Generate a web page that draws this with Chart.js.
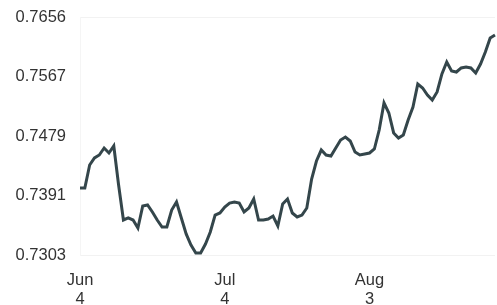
<!DOCTYPE html>
<html>
<head>
<meta charset="utf-8">
<script src="https://cdn.jsdelivr.net/npm/chart.js@4"></script>
<style>
  html, body { margin: 0; padding: 0; background: #fff; }
  #wrap { width: 497px; height: 305px; position: relative; }
</style>
</head>
<body>
<div id="wrap"><canvas id="myChart"></canvas></div>
<script>
const dates = [
  "Jun 4", "Jun 5", "Jun 6", "Jun 7", "Jun 8", "Jun 9", "Jun 10", "Jun 11", "Jun 12", "Jun 13",
  "Jun 14", "Jun 15", "Jun 16", "Jun 17", "Jun 18", "Jun 19", "Jun 20", "Jun 21", "Jun 22", "Jun 23",
  "Jun 24", "Jun 25", "Jun 26", "Jun 27", "Jun 28", "Jun 29", "Jun 30", "Jul 1", "Jul 2", "Jul 3",
  "Jul 4", "Jul 5", "Jul 6", "Jul 7", "Jul 8", "Jul 9", "Jul 10", "Jul 11", "Jul 12", "Jul 13",
  "Jul 14", "Jul 15", "Jul 16", "Jul 17", "Jul 18", "Jul 19", "Jul 20", "Jul 21", "Jul 22", "Jul 23",
  "Jul 24", "Jul 25", "Jul 26", "Jul 27", "Jul 28", "Jul 29", "Jul 30", "Jul 31", "Aug 1", "Aug 2",
  "Aug 3", "Aug 4", "Aug 5", "Aug 6", "Aug 7", "Aug 8", "Aug 9", "Aug 10", "Aug 11", "Aug 12",
  "Aug 13", "Aug 14", "Aug 15", "Aug 16", "Aug 17", "Aug 18", "Aug 19", "Aug 20", "Aug 21", "Aug 22",
  "Aug 23", "Aug 24", "Aug 25", "Aug 26", "Aug 27", "Aug 28", "Aug 29"
];

const rates = [
  0.74024, 0.74024, 0.74365, 0.74469, 0.74513, 0.74617, 0.74543, 0.74647, 0.74068, 0.73549,
  0.73579, 0.73549, 0.73431, 0.73757, 0.73772, 0.73668, 0.73549, 0.73445, 0.73445, 0.73697,
  0.73816, 0.73579, 0.73342, 0.73178, 0.73060, 0.73060, 0.73193, 0.73371, 0.73623, 0.73653,
  0.73742, 0.73801, 0.73816, 0.73801, 0.73668, 0.73727, 0.73861, 0.73549, 0.73549, 0.73564,
  0.73608, 0.73460, 0.73786, 0.73861, 0.73653, 0.73594, 0.73623, 0.73727, 0.74157, 0.74424,
  0.74587, 0.74513, 0.74498, 0.74617, 0.74736, 0.74780, 0.74721, 0.74558, 0.74513, 0.74528,
  0.74543, 0.74602, 0.74884, 0.75285, 0.75136, 0.74840, 0.74765, 0.74810, 0.75032, 0.75225,
  0.75566, 0.75507, 0.75403, 0.75329, 0.75448, 0.75715, 0.75893, 0.75759, 0.75744, 0.75804,
  0.75818, 0.75804, 0.75729, 0.75863, 0.76041, 0.76249, 0.76293
];

const xTickLabels = ["Jun 4", "Jul 4", "Aug 3"];
const yTickLabels = ["0.7303", "0.7391", "0.7479", "0.7567", "0.7656"];

const yMin = 0.7303;
const yMax = 0.7656;
const textColor = "#333";
const fontFamily = "'Liberation Sans', Arial, Helvetica, sans-serif";

const data = {
  labels: dates,
  datasets: [
    {
      data: rates,
      borderColor: "#34464b",
      borderWidth: 3,
      pointRadius: 0,
      tension: 0,
      fill: false,
    },
  ],
};

const config = {
  type: "line",
  data,
  options: {
    responsive: true,
    maintainAspectRatio: false,
    animation: false,
    layout: {
      padding: { top: 17, right: 2, left: 0, bottom: 0 },
    },
    scales: {
      x: {
        offset: false,
        grid: { display: false },
        border: { display: false },
        ticks: {
          autoSkip: false,
          maxRotation: 0,
          padding: 8,
          color: textColor,
          font: { family: fontFamily, size: 16.5, lineHeight: 1.15 },
          callback: function (value, index) {
            const label = dates[index];
            if (xTickLabels.includes(label)) {
              return label.split(" ");
            }
            return null;
          },
        },
        afterFit: (scale) => {
          scale.height = 50;
        },
      },
      y: {
        min: yMin,
        max: yMax,
        afterBuildTicks: (scale) => {
          scale.ticks = yTickLabels.map((t, i) => ({
            value: yMin + ((yMax - yMin) * i) / (yTickLabels.length - 1),
          }));
        },
        afterFit: (scale) => {
          scale.width = 80;
          scale.paddingTop = 0;
          scale.paddingBottom = 0;
        },
        grid: {
          drawTicks: false,
          color: (ctx) =>
            ctx.index === 0 || ctx.index === yTickLabels.length - 1
              ? "rgba(0,0,0,0.05)"
              : "rgba(0,0,0,0)",
        },
        border: { display: true, color: "rgba(0,0,0,0.04)" },
        ticks: {
          padding: 14,
          color: textColor,
          font: { family: fontFamily, size: 16.5 },
          callback: (value, index) => yTickLabels[index],
        },
      },
    },
    plugins: {
      legend: { display: false },
      tooltip: { enabled: false },
    },
  },
};

//create chart
const myChart = new Chart(document.getElementById("myChart"), config);
</script>
</body>
</html>
